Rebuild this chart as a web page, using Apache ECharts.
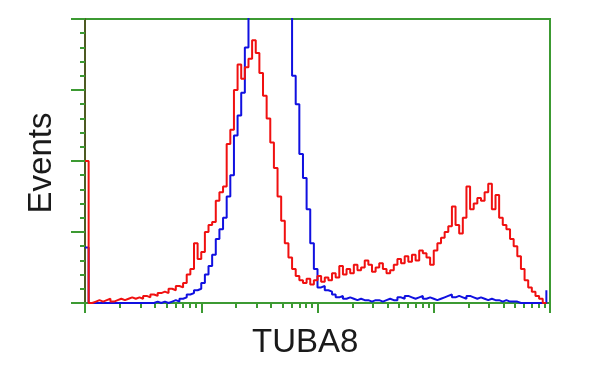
<!DOCTYPE html>
<html><head><meta charset="utf-8">
<script src="https://cdn.jsdelivr.net/npm/echarts@6/dist/echarts.min.js"></script>
<style>html,body{margin:0;padding:0;background:#fff}#c{width:600px;height:375px}</style>
</head><body><div id="c"></div>
<script>
// Histogram channels: 128 bins spanning 4 log decades (10^0 .. 10^4)
const binCount = 128;
const decades = 4;
const xTitle = 'TUBA8';
const yTitle = 'Events';
const majorTicksX = [1, 10, 100, 1000, 10000];
const yMax = 200;
const yInterval = 50;

// Counts per bin (red = stained sample)
const redCounts = [
 100,0,1,2,1,2,3,1,2,3, 2,3,4,3,4,3,5,4,6,5,
 7,8,7,10,9,12,11,14,20,24, 42,31,36,50,55,57,72,78,82,112,
 122,150,168,158,166,172,185,176,162,146, 130,113,95,75,58,42,32,24,19,16,
 14,17,13,16,19,15,18,16,21,18, 26,20,24,21,27,23,25,30,27,22,
 25,28,24,21,23,27,31,28,33,29, 34,30,37,35,32,27,37,42,46,50,
 54,68,55,49,60,82,66,70,74,72, 78,84,66,76,60,55,52,45,40,33,
 24,16,11,8,5,3,0,0
];
// Blue = negative control
const blueCounts = [
 39,0,0,0,0,0,0,0,0,0, 0,0,0,0,0,0,0,0,0,1,
 0,1,0,1,2,1,3,4,6,7, 9,10,14,20,26,34,45,52,60,75,
 90,118,132,148,180,215,260,300,320,330, 330,320,310,290,270,250,205,160,140,105,
 88,66,42,24,11,12,9,8,6,4, 5,3,4,3,2,3,2,2,1,2,
 2,1,2,3,2,2,4,3,5,4, 3,4,5,3,4,3,2,3,4,5,
 6,4,5,4,3,5,4,3,4,3, 2,3,2,2,1,2,1,1,1,0,
 0,0,0,0,0,0,0,9
];

const binX = [];
for (let i = 0; i < binCount; i++) binX.push(Math.pow(10, i * decades / binCount));
const minorTicksX = [];
for (let d = 0; d < decades; d++) for (let k = 2; k <= 9; k++) minorTicksX.push(k * Math.pow(10, d));

const toPairs = arr => arr.map((v, i) => [binX[i], v]);

const green = '#3c9a32';
const chart = echarts.init(document.getElementById('c'), null, {renderer: 'canvas'});
chart.setOption({
  animation: false,
  backgroundColor: '#fff',
  grid: {left: 85, right: 50, top: 19, bottom: 72, show: true, borderColor: green, borderWidth: 2, backgroundColor: 'transparent'},
  xAxis: [
    {type: 'log', logBase: 10, min: 1, max: 10000,
     axisLine: {show: true, lineStyle: {color: green, width: 2}},
     axisTick: {show: true, length: 10, customValues: majorTicksX, lineStyle: {color: green, width: 2}},
     axisLabel: {show: false}, splitLine: {show: false}, minorTick: {show: false}},
    {type: 'log', logBase: 10, min: 1, max: 10000, position: 'bottom',
     axisLine: {show: false},
     axisTick: {show: true, length: 5, customValues: minorTicksX, lineStyle: {color: green, width: 2}},
     axisLabel: {show: false}, splitLine: {show: false}}
  ],
  yAxis: {type: 'value', min: 0, max: yMax, interval: yInterval,
    axisLine: {show: true, lineStyle: {color: '#4e5a22', width: 2}},
    axisTick: {show: true, length: 14, lineStyle: {color: green, width: 2}},
    minorTick: {show: true, splitNumber: 5, length: 5, lineStyle: {color: green, width: 2}},
    axisLabel: {show: false}, splitLine: {show: false}},
  series: [
    {type: 'line', xAxisIndex: 0, data: toPairs(blueCounts), step: 'end', showSymbol: false, clip: true,
     lineStyle: {color: '#1010e0', width: 2}, z: 3},
    {type: 'line', xAxisIndex: 0, data: toPairs(redCounts), step: 'end', showSymbol: false, clip: true,
     lineStyle: {color: '#f01010', width: 2}, z: 4}
  ],
  graphic: [
    {type: 'text', left: 307 - 55, top: 326, style: {text: xTitle, fontFamily: 'Liberation Sans, Arial, sans-serif', fontSize: 33, fill: '#1a1a1a', width: 110, align: 'center'}},
    {type: 'text', x: 42, y: 163, rotation: Math.PI / 2, style: {text: yTitle, fontFamily: 'Liberation Sans, Arial, sans-serif', fontSize: 33, fill: '#1a1a1a', align: 'center', verticalAlign: 'middle'}}
  ]
});
</script></body></html>
